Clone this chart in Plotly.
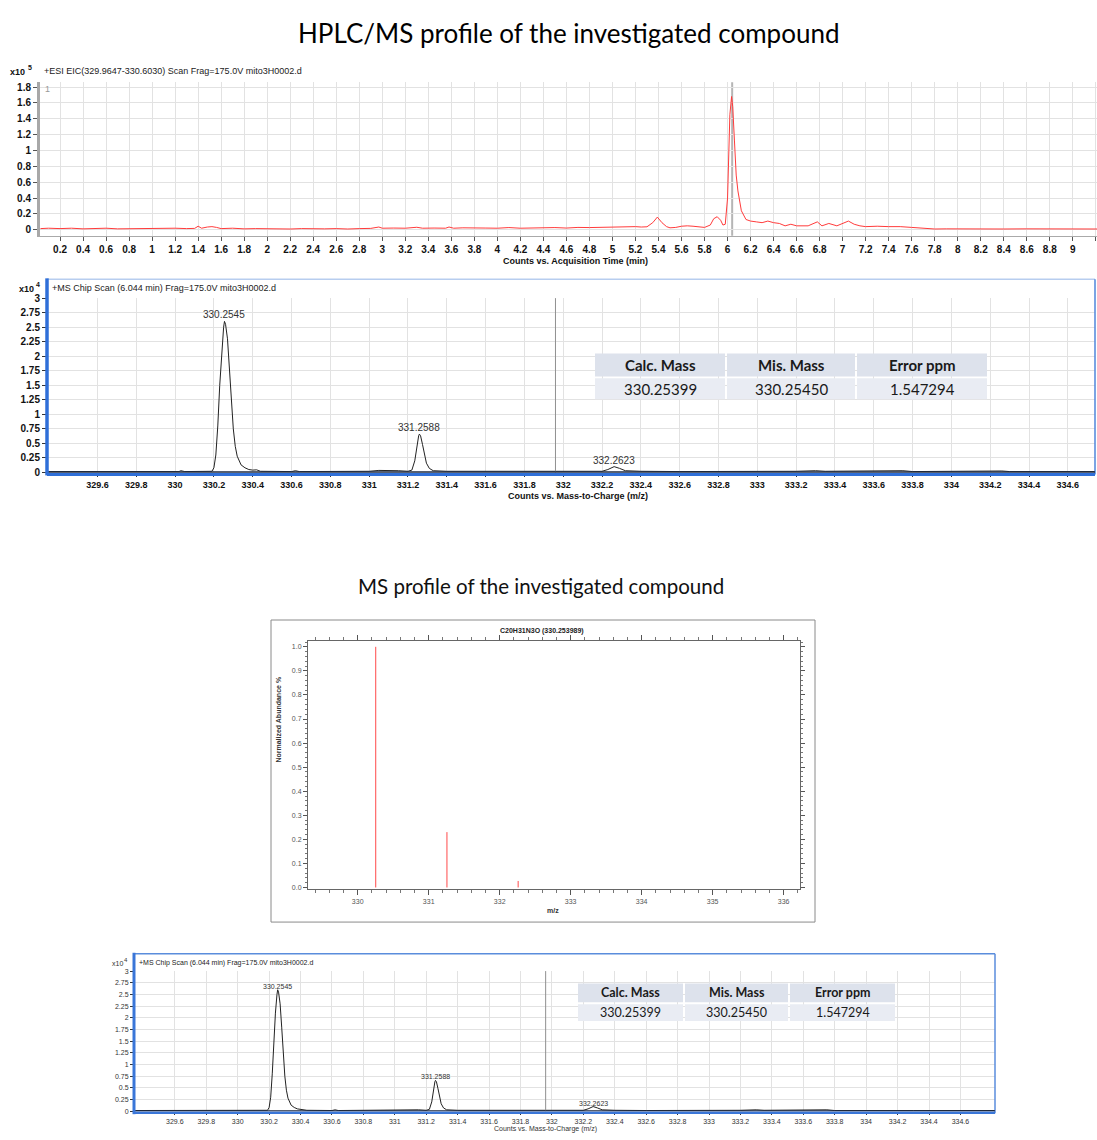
import plotly.graph_objects as go

W, H = 1097, 1140

# ---------------- data ----------------
# Extracted ion chromatogram (counts x10^5 vs acquisition time, min)
EIC_TIME = [0.03, 0.1, 0.2, 0.3, 0.4, 0.5, 0.6, 0.7, 0.8, 0.9, 1.0, 1.1, 1.2, 1.3, 1.37, 1.4, 1.43,
            1.48, 1.52, 1.56, 1.6, 1.7, 1.8, 1.9, 2.0, 2.1, 2.2, 2.3, 2.4, 2.5, 2.6, 2.7, 2.8, 2.9,
            2.97, 3.0, 3.1, 3.2, 3.3, 3.35, 3.45, 3.55, 3.58, 3.62, 3.7, 3.8, 3.9, 4.0, 4.1, 4.2,
            4.3, 4.4, 4.5, 4.6, 4.7, 4.8, 4.9, 5.0, 5.1, 5.2, 5.25, 5.3, 5.35, 5.39, 5.43, 5.47,
            5.5, 5.55, 5.6, 5.65, 5.7, 5.75, 5.8, 5.85, 5.88, 5.91, 5.94, 5.96, 5.98, 6.0, 6.02,
            6.035, 6.045, 6.06, 6.075, 6.09, 6.12, 6.16, 6.2, 6.25, 6.3, 6.35, 6.4, 6.45, 6.5,
            6.55, 6.6, 6.7, 6.78, 6.82, 6.88, 6.95, 7.05, 7.1, 7.15, 7.2, 7.3, 7.4, 7.5, 7.6, 7.7,
            7.8, 7.9, 8.0, 8.2, 8.4, 8.6, 8.8, 9.0, 9.22]
EIC_COUNTS = [0.015, 0.02, 0.015, 0.02, 0.012, 0.018, 0.02, 0.012, 0.015, 0.018, 0.02, 0.015, 0.02,
              0.015, 0.018, 0.045, 0.02, 0.035, 0.04, 0.03, 0.015, 0.02, 0.012, 0.015, 0.012, 0.015,
              0.01, 0.015, 0.01, 0.012, 0.015, 0.01, 0.015, 0.018, 0.035, 0.02, 0.022, 0.02, 0.032,
              0.02, 0.022, 0.02, 0.035, 0.02, 0.025, 0.02, 0.022, 0.02, 0.028, 0.02, 0.025, 0.022,
              0.028, 0.022, 0.03, 0.028, 0.032, 0.03, 0.035, 0.04, 0.035, 0.038, 0.09, 0.16, 0.09,
              0.04, 0.025, 0.03, 0.045, 0.05, 0.045, 0.04, 0.03, 0.06, 0.14, 0.165, 0.12, 0.06,
              0.07, 0.4, 1.45, 1.68, 1.55, 1.12, 0.69, 0.49, 0.24, 0.13, 0.11, 0.1, 0.09, 0.11,
              0.09, 0.08, 0.05, 0.07, 0.05, 0.05, 0.1, 0.05, 0.08, 0.05, 0.11, 0.07, 0.05, 0.04,
              0.045, 0.04, 0.04, 0.03, 0.02, 0.01, 0.012, 0.01, 0.012, 0.01, 0.012, 0.01, 0.012, 0.01]
EIC_CURSOR_T = 6.04

# MS chip scan spectrum (counts x10^4 vs m/z)
MS_MZ = [329.34, 329.5, 329.7, 329.88, 329.9, 329.92, 330.02, 330.03, 330.05, 330.19, 330.2, 330.21,
         330.22, 330.23, 330.24, 330.25, 330.2545, 330.26, 330.27, 330.28, 330.29, 330.3, 330.31,
         330.32, 330.34, 330.36, 330.38, 330.4, 330.42, 330.44, 330.6, 330.62, 330.64, 331.0,
         331.05, 331.1, 331.15, 331.2, 331.22, 331.235, 331.245, 331.255, 331.2588, 331.265,
         331.275, 331.285, 331.295, 331.31, 331.33, 331.4, 331.5, 331.6, 331.8, 332.0, 332.2,
         332.23, 332.2623, 332.29, 332.32, 332.4, 332.55, 332.57, 332.6, 333.2, 333.25, 333.3,
         333.35, 333.75, 333.8, 334.15, 334.2, 334.26, 334.3, 334.82]
MS_COUNTS = [0.015, 0.015, 0.015, 0.02, 0.025, 0.015, 0.015, 0.03, 0.015, 0.02, 0.08, 0.3, 0.8, 1.5,
             2.1, 2.5, 2.6, 2.55, 2.3, 1.8, 1.2, 0.75, 0.45, 0.28, 0.13, 0.08, 0.05, 0.04, 0.045,
             0.02, 0.015, 0.03, 0.015, 0.02, 0.035, 0.035, 0.03, 0.02, 0.04, 0.2, 0.45, 0.63, 0.66,
             0.63, 0.48, 0.3, 0.16, 0.07, 0.03, 0.02, 0.02, 0.015, 0.02, 0.015, 0.02, 0.05, 0.1,
             0.07, 0.03, 0.02, 0.015, 0.025, 0.015, 0.02, 0.03, 0.03, 0.02, 0.03, 0.015, 0.025,
             0.015, 0.025, 0.015, 0.015]
MS_CURSOR_MZ = 331.96
PEAK_MZ = [330.2545, 331.2588, 332.2623]
PEAK_COUNTS = [2.6, 0.66, 0.1]
PEAK_LABELS = ["330.2545", "331.2588", "332.2623"]
MS_YTICKS = [0, 0.25, 0.5, 0.75, 1, 1.25, 1.5, 1.75, 2, 2.25, 2.5, 2.75, 3]
MS_YTICK_TEXT = ["0", "0.25", "0.5", "0.75", "1", "1.25", "1.5", "1.75", "2", "2.25", "2.5", "2.75", "3"]
MS_XTICKS = [329.6, 329.8, 330.0, 330.2, 330.4, 330.6, 330.8, 331.0, 331.2, 331.4, 331.6, 331.8,
             332.0, 332.2, 332.4, 332.6, 332.8, 333.0, 333.2, 333.4, 333.6, 333.8, 334.0, 334.2,
             334.4, 334.6]
MS_XTICK_TEXT = ["329.6", "329.8", "330", "330.2", "330.4", "330.6", "330.8", "331", "331.2",
                 "331.4", "331.6", "331.8", "332", "332.2", "332.4", "332.6", "332.8", "333",
                 "333.2", "333.4", "333.6", "333.8", "334", "334.2", "334.4", "334.6"]

# Theoretical isotope pattern C20H31N3O
THEO_MZ = [330.254, 331.257, 332.260]
THEO_ABUND = [1.0, 0.23, 0.027]

# Mass table
TABLE_HEADER = ["Calc. Mass", "Mis. Mass", "Error ppm"]
TABLE_ROW = ["330.25399", "330.25450", "1.547294"]

# ---------------- helpers ----------------
def px(x):
    return x / W


def py(y):
    return 1 - y / H


ARIAL = "Liberation Sans, Arial, sans-serif"
CAL = "Lato, Open Sans, sans-serif"

fig = go.Figure()

# Panel 1: EIC
fig.add_trace(go.Scatter(x=EIC_TIME, y=EIC_COUNTS, mode="lines",
                         line=dict(color="#ff3b3b", width=1), xaxis="x", yaxis="y",
                         showlegend=False, hoverinfo="skip"))
# Panel 2: MS chip scan
fig.add_trace(go.Scatter(x=MS_MZ, y=MS_COUNTS, mode="lines",
                         line=dict(color="#222222", width=1), xaxis="x2", yaxis="y2",
                         showlegend=False, hoverinfo="skip"))
# Panel 3: theoretical sticks
stick_x, stick_y = [], []
for m, a in zip(THEO_MZ, THEO_ABUND):
    stick_x += [m, m, None]
    stick_y += [0, a, None]
fig.add_trace(go.Scatter(x=stick_x, y=stick_y, mode="lines",
                         line=dict(color="#ff4a4a", width=1), xaxis="x3", yaxis="y3",
                         showlegend=False, hoverinfo="skip"))
# Panel 4: MS chip scan (small copy)
fig.add_trace(go.Scatter(x=MS_MZ, y=MS_COUNTS, mode="lines",
                         line=dict(color="#222222", width=1), xaxis="x4", yaxis="y4",
                         showlegend=False, hoverinfo="skip"))

grid = "#e2e2e2"
bold10 = dict(family=ARIAL, size=10, color="#111", weight="bold")

layout = dict(
    width=W, height=H, margin=dict(l=0, r=0, t=0, b=0),
    paper_bgcolor="white", plot_bgcolor="white", showlegend=False,
    font=dict(family=ARIAL),
    # panel 1
    xaxis=dict(domain=[px(40), px(1097)], anchor="y", range=[0.026, 9.21],
               tick0=0, dtick=0.2, showgrid=True, gridcolor=grid, zeroline=False,
               ticks="outside", ticklen=4, tickcolor="#555", showline=True,
               linecolor="#aaaaaa", linewidth=1, tickfont=bold10),
    yaxis=dict(domain=[py(233), py(78)], anchor="x", range=[-0.075, 1.86],
               tick0=0, dtick=0.2, showgrid=True, gridcolor=grid, zeroline=False,
               ticks="outside", ticklen=4, tickcolor="#555", showline=True,
               linecolor="#a8a8a8", linewidth=3, tickfont=bold10),
    # panel 2
    xaxis2=dict(domain=[px(47), px(1095)], anchor="y2", range=[329.34, 334.74],
                tickvals=MS_XTICKS, ticktext=MS_XTICK_TEXT, showgrid=True, gridcolor=grid,
                zeroline=False, ticks="outside", ticklen=4, tickcolor="#333", showline=False,
                tickfont=dict(family=ARIAL, size=9, color="#111", weight="bold")),
    yaxis2=dict(domain=[py(472), py(296)], anchor="x2", range=[0, 3],
                tickvals=MS_YTICKS, ticktext=MS_YTICK_TEXT, showgrid=True, gridcolor=grid,
                zeroline=False, ticks="outside", ticklen=4, tickcolor="#333", showline=False,
                tickfont=dict(family=ARIAL, size=10, color="#111", weight="bold")),
    # panel 3
    xaxis3=dict(domain=[px(308), px(800)], anchor="y3", range=[329.3, 336.23],
                tick0=330, dtick=1, showgrid=False, zeroline=False,
                ticks="outside", ticklen=5, tickcolor="#555", showline=True,
                linecolor="#666", linewidth=1, mirror="allticks",
                minor=dict(dtick=0.2, ticks="outside", ticklen=3, tickcolor="#777"),
                tickfont=dict(family=ARIAL, size=7, color="#555")),
    yaxis3=dict(domain=[py(893), py(642)], anchor="x3", range=[-0.008, 1.025],
                tick0=0, dtick=0.1, tickformat=".1f", showgrid=False, zeroline=False,
                ticks="outside", ticklen=4, tickcolor="#555", showline=True,
                linecolor="#666", linewidth=1, mirror="allticks",
                minor=dict(dtick=0.02, ticks="outside", ticklen=2, tickcolor="#777"),
                tickfont=dict(family=ARIAL, size=7, color="#555")),
    # panel 4
    xaxis4=dict(domain=[px(134), px(995)], anchor="y4", range=[329.34, 334.82],
                tickvals=MS_XTICKS, ticktext=MS_XTICK_TEXT, showgrid=True, gridcolor=grid,
                zeroline=False, ticks="outside", ticklen=3, tickcolor="#333", showline=False,
                tickfont=dict(family=ARIAL, size=7, color="#333")),
    yaxis4=dict(domain=[py(1117), py(975.5)], anchor="x4", range=[0, 3],
                tickvals=MS_YTICKS, ticktext=MS_YTICK_TEXT, showgrid=True, gridcolor=grid,
                zeroline=False, ticks="outside", ticklen=3, tickcolor="#333", showline=False,
                tickfont=dict(family=ARIAL, size=7, color="#333")),
)
fig.update_layout(**layout)

shapes = []
ann = []


def text(x, y, s, size, family=ARIAL, color="#111", bold=False, xanchor="center", **kw):
    ann.append(dict(x=px(x), y=py(y), xref="paper", yref="paper", text=s, showarrow=False,
                    xanchor=xanchor, yanchor="middle",
                    font=dict(family=family, size=size, color=color,
                              weight="bold" if bold else "normal"), **kw))


def line(x0, y0, x1, y1, color, width):
    shapes.append(dict(type="line", xref="paper", yref="paper", x0=px(x0), y0=py(y0),
                       x1=px(x1), y1=py(y1), line=dict(color=color, width=width), layer="above"))


# Titles
text(568, 28, "HPLC/MS profile of the investigated compound", 26, family=CAL, color="#000")
text(541, 587, "MS profile of the investigated compound", 20.5, family=CAL, color="#111")

# Panel 1 decorations
text(8, 68, "x10", 9, bold=True, xanchor="left")
text(26, 63, "5", 7, bold=True, xanchor="left")
text(42, 67, "+ESI EIC(329.9647-330.6030) Scan Frag=175.0V mito3H0002.d", 9, xanchor="left", color="#222")
text(43, 85, "1", 9, color="#999", xanchor="left")
text(575, 258, "Counts vs. Acquisition Time (min)", 9, bold=True)
shapes.append(dict(type="line", xref="x", yref="y domain", x0=EIC_CURSOR_T, x1=EIC_CURSOR_T,
                   y0=0, y1=1, line=dict(color="#b5b5b5", width=2), layer="below"))

# Panel 2 decorations
shapes.append(dict(type="line", xref="x2", yref="y2 domain", x0=MS_CURSOR_MZ, x1=MS_CURSOR_MZ,
                   y0=0, y1=1, line=dict(color="#909090", width=1), layer="above"))
line(47, 277, 1095, 277, "#b7cdef", 1.5)
line(1095, 277, 1095, 474, "#4f86da", 1.5)
line(47, 474, 1095, 474, "#2f6fd8", 3)
line(47, 471.5, 1095, 471.5, "#1e2a40", 1.5)
line(47, 276, 47, 475, "#2f6fd8", 3.5)
text(17, 287, "x10", 9, bold=True, xanchor="left")
text(34, 282, "4", 7, bold=True, xanchor="left")
text(50, 286, "+MS Chip Scan (6.044 min) Frag=175.0V mito3H0002.d", 9, xanchor="left", color="#222")
text(578, 496, "Counts vs. Mass-to-Charge (m/z)", 9, bold=True)
for m, c, lab in zip(PEAK_MZ, PEAK_COUNTS, PEAK_LABELS):
    ann.append(dict(x=m, y=c, xref="x2", yref="y2", text=lab, showarrow=False,
                    yanchor="bottom", yshift=-1,
                    font=dict(family=ARIAL, size=10, color="#333")))

# Panel 3 decorations
shapes.append(dict(type="rect", xref="paper", yref="paper", x0=px(271), y0=py(926), x1=px(815),
                   y1=py(621), line=dict(color="#8a8a8a", width=1), layer="below"))
text(542, 632, "C20H31N3O (330.253989)", 7, bold=True, color="#222")
text(553, 914, "m/z", 7, bold=True, color="#333")
ann.append(dict(x=px(279), y=py(767), xref="paper", yref="paper", text="Normalized Abundance %",
                showarrow=False, textangle=-90, xanchor="center",
                font=dict(family=ARIAL, size=7, color="#333", weight="bold")))

# Panel 4 decorations
shapes.append(dict(type="line", xref="x4", yref="y4 domain", x0=MS_CURSOR_MZ, x1=MS_CURSOR_MZ,
                   y0=0, y1=1, line=dict(color="#909090", width=1), layer="above"))
line(134, 958, 995, 958, "#5a8ddc", 1.5)
line(995, 958, 995, 1119, "#5a8ddc", 1.5)
line(134, 1118.5, 995, 1118.5, "#3a76d8", 2.5)
line(134, 1116.5, 995, 1116.5, "#1e2a40", 1.2)
line(134, 957, 134, 1120, "#3a76d8", 3)
text(110, 968, "x10", 7, xanchor="left", color="#333")
text(122, 964, "4", 6, xanchor="left", color="#333")
text(137, 967, "+MS Chip Scan (6.044 min) Frag=175.0V mito3H0002.d", 7, xanchor="left", color="#222")
text(545, 1135, "Counts vs. Mass-to-Charge (m/z)", 7, color="#333")
for m, c, lab in zip(PEAK_MZ, PEAK_COUNTS, PEAK_LABELS):
    ann.append(dict(x=m, y=c, xref="x4", yref="y4", text=lab, showarrow=False,
                    yanchor="bottom", yshift=-2,
                    font=dict(family=ARIAL, size=7, color="#333")))


# Tables
def table(cols, yh, yb, fs):
    for (x0, x1), hdr, val in zip(cols, TABLE_HEADER, TABLE_ROW):
        shapes.append(dict(type="rect", xref="paper", yref="paper", x0=px(x0), x1=px(x1),
                           y0=py(yh[1]), y1=py(yh[0]), fillcolor="#dde2ec",
                           line=dict(width=0), layer="above"))
        shapes.append(dict(type="rect", xref="paper", yref="paper", x0=px(x0), x1=px(x1),
                           y0=py(yb[1]), y1=py(yb[0]), fillcolor="#e9ecf3",
                           line=dict(width=0), layer="above"))
        text((x0 + x1) / 2, (yh[0] + yh[1]) / 2, hdr, fs, family=CAL, bold=True, color="#1a1a1a")
        text((x0 + x1) / 2, (yb[0] + yb[1]) / 2, val, fs, family=CAL, color="#1a1a1a")


table([(595, 725), (727, 855), (857, 987)], (352, 375), (377, 398), 15)
table([(578, 683), (685, 788), (790, 895)], (988, 1007), (1009, 1026), 12.5)

fig.update_layout(shapes=shapes, annotations=ann)

fig.write_html("out.html", config={"displayModeBar": False},
               post_script="document.body.style.margin='0';document.body.style.overflow='hidden';")
